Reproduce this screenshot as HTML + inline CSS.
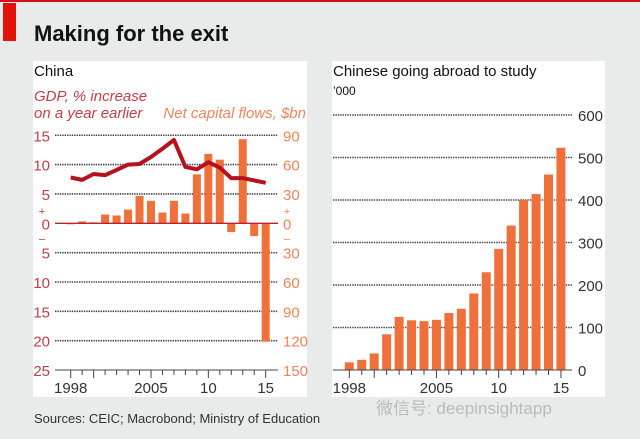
<!DOCTYPE html>
<html><head><meta charset="utf-8"><style>
body{margin:0;width:640px;height:439px;overflow:hidden;background:#e9eaea;font-family:"Liberation Sans",sans-serif;}
svg{display:block}
</style></head><body>
<svg width="640" height="439" font-family="Liberation Sans, sans-serif">
<rect x="0" y="0" width="640" height="2" fill="#d0101a"/>
<rect x="3" y="3" width="13" height="38" fill="#e3120b"/>
<text x="34" y="41" font-size="22" font-weight="bold" fill="#111">Making for the exit</text>
<rect x="33" y="61" width="274" height="336" fill="#fff"/>
<rect x="332" y="61" width="273" height="336" fill="#fff"/>
<text x="34" y="76" font-size="15" fill="#111">China</text>
<text x="34" y="101" font-size="15" font-style="italic" fill="#c0404a">GDP, % increase</text>
<text x="34" y="118" font-size="15" font-style="italic" fill="#c0404a">on a year earlier</text>
<text x="306" y="118" font-size="15" font-style="italic" fill="#f0845a" text-anchor="end">Net capital flows, $bn</text>
<text x="333" y="76" font-size="15" fill="#111">Chinese going abroad to study</text>
<text x="333" y="95" font-size="12" fill="#111">’000</text>
<g id="left"></g><g id="right"></g>
<text x="34" y="423" font-size="13" fill="#333">Sources: CEIC; Macrobond; Ministry of Education</text>
<text x="376" y="414" font-size="17" fill="#bbb" font-family="Liberation Sans, Noto Sans CJK SC, sans-serif">微信号: deepinsightapp</text>
</svg>
<script>
const years=[1998,1999,2000,2001,2002,2003,2004,2005,2006,2007,2008,2009,2010,2011,2012,2013,2014,2015];
const capitalFlows=[-1,2,1,9,8,14,28,23,11,23,10,50,71,65,-9,86,-13,-121];
const gdpGrowth=[7.8,7.4,8.4,8.2,9.1,10.0,10.1,11.3,12.7,14.2,9.6,9.2,10.4,9.5,7.7,7.7,7.3,6.9];
const gdpTicks=[15,10,5,0,-5,-10,-15,-20,-25];
const flowTickLabels=["90","60","30","0","30","60","90","120","150"];
const students=[18,24,39,84,125,117,115,118,134,144,180,230,285,340,400,414,460,523];
const studentTicks=[0,100,200,300,400,500,600];
const xLabels=[[1998,"1998"],[2005,"2005"],[2010,"10"],[2015,"15"]];
const NS="http://www.w3.org/2000/svg";
function mk(p,t,a){const e=document.createElementNS(NS,t);for(const k in a)e.setAttribute(k,a[k]);p.appendChild(e);return e;}
const L=document.getElementById('left');
const lx=y=>70.7+(y-1998)*11.47;
const ly=v=>223.3-v*5.87;
const fy=v=>ly(v/6);
gdpTicks.forEach((t,i)=>{
  if(t!==0&&t!==-25){const g=mk(L,'line',{x1:55,x2:278,y1:ly(t),y2:ly(t),stroke:'#444','stroke-width':1.6,'stroke-dasharray':'1.4 1'});
  
  }
  const a=mk(L,'text',{x:50,y:ly(t)+6,'font-size':15,fill:'#c0404a','text-anchor':'end'});a.textContent=Math.abs(t);
  
  
  const b=mk(L,'text',{x:283,y:ly(t)+6,'font-size':15,fill:'#f0845a'});b.textContent=flowTickLabels[i];
  
  
});
[[42,'#c0404a'],[287,'#f0845a']].forEach(([x,c])=>{
  const p=mk(L,'text',{x:x,y:ly(2.1)+4,'font-size':11,fill:c,'text-anchor':'middle'});p.textContent='+';
  
  
  const m=mk(L,'text',{x:x,y:ly(-2.6)+4,'font-size':11,fill:c,'text-anchor':'middle'});m.textContent='–';
  
  
});
capitalFlows.forEach((v,i)=>{
  const y0=fy(0),y1=fy(v);
  const r=mk(L,'rect',{x:lx(years[i])-4,y:Math.min(y0,y1),width:8,height:Math.max(1,Math.abs(y1-y0)),fill:'#f0703c'});
  
  
});
const z=mk(L,'line',{x1:55,x2:278,y1:ly(0),y2:ly(0),stroke:'#c0202a','stroke-width':1.3});


const ln=mk(L,'polyline',{points:gdpGrowth.map((v,i)=>lx(years[i])+','+ly(v)).join(' '),fill:'none',stroke:'#b5121b','stroke-width':4,'stroke-linejoin':'round'});


const la=mk(L,'line',{x1:55,x2:278,y1:ly(-25),y2:ly(-25),stroke:'#444','stroke-width':1});


years.forEach(y=>{const t=mk(L,'line',{x1:lx(y),x2:lx(y),y1:ly(-25),y2:ly(-25)+((y%5===0||y===1998)?8:5),stroke:'#444'});
  
  });
xLabels.forEach(([y,s])=>{const t=mk(L,'text',{x:lx(y),y:393,'font-size':15,fill:'#333','text-anchor':'middle'});t.textContent=s;
  
  });
const R=document.getElementById('right');
const rx=y=>349.3+(y-1998)*12.45;
const ry=v=>370-v*0.425;
studentTicks.forEach(t=>{
  if(t>0){const g=mk(R,'line',{x1:333,x2:572,y1:ry(t),y2:ry(t),stroke:'#444','stroke-width':1.6,'stroke-dasharray':'1.4 1'});
  
  }
  const a=mk(R,'text',{x:578,y:ry(t)+6,'font-size':15,fill:'#333'});a.textContent=t;
  
  
});
students.forEach((v,i)=>{
  const r=mk(R,'rect',{x:rx(years[i])-4.5,y:ry(v),width:9,height:ry(0)-ry(v),fill:'#f0703c'});
  
  
});
const ra=mk(R,'line',{x1:333,x2:572,y1:ry(0),y2:ry(0),stroke:'#444','stroke-width':1});


years.forEach(y=>{const t=mk(R,'line',{x1:rx(y),x2:rx(y),y1:ry(0),y2:ry(0)+((y%5===0||y===1998)?8:5),stroke:'#444'});
  
  });
xLabels.forEach(([y,s])=>{const t=mk(R,'text',{x:rx(y),y:393,'font-size':15,fill:'#333','text-anchor':'middle'});t.textContent=s;
  
  });
</script>
</body></html>
